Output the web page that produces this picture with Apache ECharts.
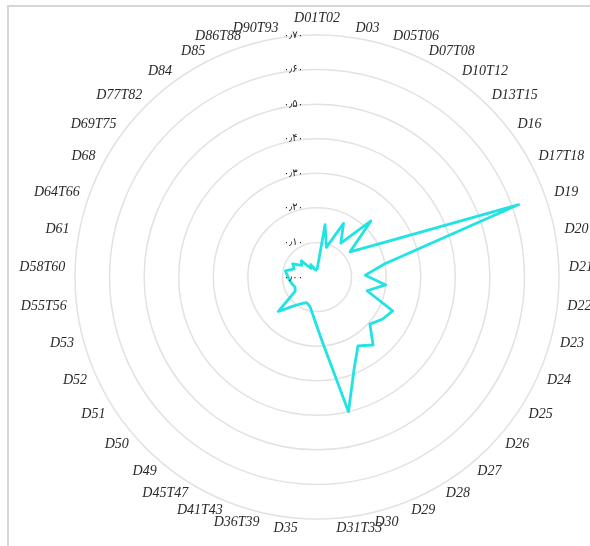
<!DOCTYPE html>
<html>
<head>
<meta charset="utf-8">
<script src="https://cdn.jsdelivr.net/npm/echarts@6/dist/echarts.min.js"></script>
<style>
html,body{margin:0;padding:0;background:#fff;}
#main{width:590px;height:546px;}
</style>
</head>
<body>
<div id="main"></div>
<script>
var categories = ['D01T02','D03','D05T06','D07T08','D10T12','D13T15','D16','D17T18','D19','D20','D21','D22','D23','D24','D25','D26','D27','D28','D29','D30','D31T33','D35','D36T39','D41T43','D45T47','D49','D50','D51','D52','D53','D55T56','D58T60','D61','D64T66','D68','D69T75','D77T82','D84','D85','D86T88','D90T93'];
var values = [0.02,0.153,0.09,0.173,0.12,0.225,0.12,0.198,0.62,0.2,0.14,0.2,0.15,0.24,0.225,0.205,0.255,0.232,0.287,0.40,0.184,0.118,0.088,0.08,0.09,0.109,0.15,0.075,0.07,0.075,0.08,0.085,0.093,0.07,0.08,0.055,0.065,0.03,0.04,0.025,0.02];
var tickLabels = ['۰٫۰۰','۰٫۱۰','۰٫۲۰','۰٫۳۰','۰٫۴۰','۰٫۵۰','۰٫۶۰','۰٫۷۰'];
var axisMax = 0.7;
var tickStep = 0.1;

// ECharts radar runs counter-clockwise; reorder (keeping the first at top) so the axes run clockwise.
function clockwise(arr){ return [arr[0]].concat(arr.slice(1).reverse()); }
var cwCategories = clockwise(categories);
var cwValues = clockwise(values);

var chart = echarts.init(document.getElementById('main'), null, {renderer:'canvas'});
var option = {
  backgroundColor: '#fff',
  animation: false,
  graphic: [{
    type: 'rect', shape: {x: 8, y: 6, width: 700, height: 700},
    style: {fill: 'none', stroke: '#d6d6d6', lineWidth: 2}, silent: true, z: -10
  }],
  radar: {
    center: [317, 277],
    radius: 242,
    shape: 'circle',
    splitNumber: 7,
    startAngle: 90,
    nameGap: 10,
    indicator: cwCategories.map(function(c){ return {name: c, max: axisMax, min: 0}; }),
    axisName: {color: '#2a2a2a', fontStyle: 'italic', fontFamily: 'Liberation Serif', fontSize: 14},
    axisLine: {show: false},
    axisTick: {show: false},
    axisLabel: {show: false},
    splitArea: {show: false},
    splitLine: {lineStyle: {color: '#e2e2e2', width: 1.5}}
  },
  polar: {center: [317, 277], radius: 242},
  angleAxis: {show: false, startAngle: 90, min: 0, max: 360},
  radiusAxis: {
    type: 'value', min: 0, max: axisMax, interval: tickStep,
    axisLine: {show: false}, axisTick: {show: false}, splitLine: {show: false},
    axisLabel: {
      show: true, margin: 14, color: '#222', fontSize: 10, fontFamily: 'DejaVu Sans',
      formatter: function(v){ return tickLabels[Math.round(v / tickStep)]; }
    },
    z: 5
  },
  series: [{
    type: 'radar',
    symbol: 'none',
    lineStyle: {color: '#22E3E3', width: 2.8},
    itemStyle: {color: '#22E3E3'},
    data: [{value: cwValues}]
  }]
};
chart.setOption(option);
</script>
</body>
</html>
